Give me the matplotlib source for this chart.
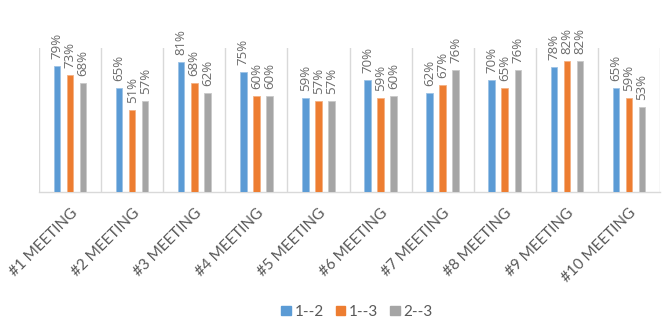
import matplotlib
matplotlib.use("Agg")
import matplotlib.pyplot as plt
import numpy as np
from matplotlib.patches import Patch

plt.rcParams['font.family'] = ['Lato', 'DejaVu Sans']

categories = ["#1 MEETING", "#2 MEETING", "#3 MEETING", "#4 MEETING", "#5 MEETING",
              "#6 MEETING", "#7 MEETING", "#8 MEETING", "#9 MEETING", "#10 MEETING"]
series_names = ["1--2", "1--3", "2--3"]
s12 = [79, 65, 81, 75, 59, 70, 62, 70, 78, 65]
s13 = [73, 51, 68, 60, 57, 59, 67, 65, 82, 59]
s23 = [68, 57, 62, 60, 57, 60, 76, 76, 82, 53]
colors = ["#5B9BD5", "#ED7D31", "#A5A5A5"]
edges = ["#9DC3E6", "#F4B183", "#C9C9C9"]

fig = plt.figure(figsize=(6.68, 3.22), dpi=100)
ax = fig.add_axes([39/668, 1-192/322, 621/668, 144/322])

x = np.arange(len(categories))
offs = [-0.21, 0.0, 0.21]
w = 0.105
text_col = "#595959"
for vals, off, c, ec in zip([s12, s13, s23], offs, colors, edges):
    ax.bar(x + off, vals, width=w, color=c, edgecolor=ec, linewidth=0.6, zorder=3)
    for xi, v in zip(x, vals):
        ax.annotate(f"{v}%", (xi + off, v), xytext=(0, 5), textcoords="offset points",
                    rotation=90, ha="center", va="bottom", fontsize=9.5,
                    family=["Open Sans", "DejaVu Sans"], color="#6A6A6A")

ax.set_xlim(-0.5, len(categories) - 0.5)
ax.set_ylim(0, 90)
ax.set_yticks([])
for b in np.arange(-0.5, len(categories), 1.0):
    ax.axvline(b, color="#D9D9D9", linewidth=1, zorder=1)
for sp in ["top", "left", "right"]:
    ax.spines[sp].set_visible(False)
ax.spines["bottom"].set_color("#D9D9D9")
ax.spines["bottom"].set_linewidth(1)
ax.set_xticks(x)
ax.set_xticklabels(categories, rotation=45, ha="right", va="top",
                   rotation_mode="anchor", fontsize=11, color=text_col)
ax.tick_params(axis="x", length=0, pad=10)

handles = [Patch(facecolor=c, edgecolor=c) for c in colors]
fig.legend(handles, series_names, loc="center", bbox_to_anchor=(357/668, 1-312/322),
           ncol=3, frameon=False, fontsize=11, handlelength=0.6, handleheight=0.6,
           handletextpad=0.25, columnspacing=0.8, labelcolor=text_col)

fig.savefig("out.png", dpi=100)
